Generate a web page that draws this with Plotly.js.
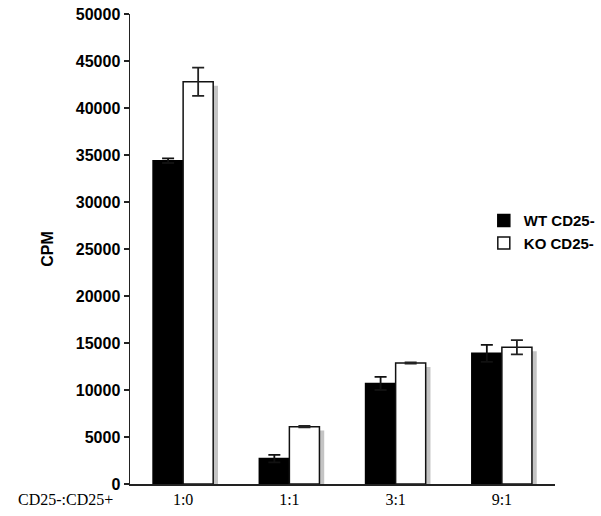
<!DOCTYPE html>
<html>
<head>
<meta charset="utf-8">
<script src="https://cdn.plot.ly/plotly-3.0.1.min.js"></script>
<style>html,body{margin:0;padding:0;background:#fff;}#chart{width:601px;height:516px;}</style>
</head>
<body>
<div id="chart"></div>
<script>
var categories = ["1:0", "1:1", "3:1", "9:1"];
var wtValues = [34400, 2700, 10700, 13900];
var wtErrors = [250, 400, 700, 900];
var koValues = [42800, 6100, 12870, 14550];
var koErrors = [1500, 80, 60, 750];
var seriesNames = ["WT CD25-", "KO CD25-"];
var yTickValues = [0, 5000, 10000, 15000, 20000, 25000, 30000, 35000, 40000, 45000, 50000];

var barW = 0.283;
var shadowDrop = 420;

var shadow = {
  type: "bar", x: categories,
  y: koValues.map(function (v) { return v - shadowDrop; }),
  offset: 0.045, width: barW,
  marker: { color: "#c4c4c4", line: { width: 0 } },
  showlegend: false, hoverinfo: "skip"
};
var wt = {
  type: "bar", name: seriesNames[0], x: categories, y: wtValues,
  offset: -barW, width: barW,
  marker: { color: "#000000", line: { color: "#000000", width: 1.5 } },
  error_y: { type: "data", array: wtErrors, visible: true, color: "#111111", thickness: 1.8, width: 6 }
};
var ko = {
  type: "bar", name: seriesNames[1], x: categories, y: koValues,
  offset: 0, width: barW,
  marker: { color: "#ffffff", line: { color: "#111111", width: 1.5 } },
  error_y: { type: "data", array: koErrors, visible: true, color: "#222222", thickness: 1.8, width: 6 }
};

var layout = {
  width: 601, height: 516,
  margin: { l: 130, r: 46, t: 14, b: 32, autoexpand: false },
  paper_bgcolor: "#ffffff", plot_bgcolor: "#ffffff",
  barmode: "overlay",
  showlegend: true,
  legend: {
    xref: "container", x: 0.805, y: 0.595, xanchor: "left", yanchor: "top",
    font: { family: "Liberation Sans, Arial, sans-serif", size: 15, color: "#000", weight: "bold" },
    bgcolor: "rgba(0,0,0,0)", itemwidth: 30
  },
  xaxis: {
    type: "category", range: [-0.5, 3.5],
    showline: true, linecolor: "#222", linewidth: 1.5,
    ticks: "", showgrid: false, zeroline: false,
    tickfont: { family: "Liberation Serif, Times New Roman, serif", size: 16, color: "#000" },
    fixedrange: true
  },
  yaxis: {
    range: [0, 50000], tickvals: yTickValues,
    ticktext: yTickValues.map(String),
    showline: true, linecolor: "#222", linewidth: 1.5,
    ticks: "outside", ticklen: 5, tickcolor: "#222", tickwidth: 1.2,
    showgrid: false, zeroline: false,
    tickfont: { family: "Liberation Sans, Arial, sans-serif", size: 16, color: "#000", weight: "bold" },
    title: { text: "CPM", font: { family: "Liberation Sans, Arial, sans-serif", size: 16, color: "#000", weight: "bold" }, standoff: 18 },
    fixedrange: true
  },
  annotations: [{
    text: "CD25-:CD25+", xref: "paper", yref: "paper",
    x: -0.035, y: -0.034, xanchor: "right", yanchor: "middle", showarrow: false,
    font: { family: "Liberation Serif, Times New Roman, serif", size: 16, color: "#000" }
  }]
};

Plotly.newPlot("chart", [shadow, wt, ko], layout, { displayModeBar: false, staticPlot: true });
</script>
</body>
</html>
